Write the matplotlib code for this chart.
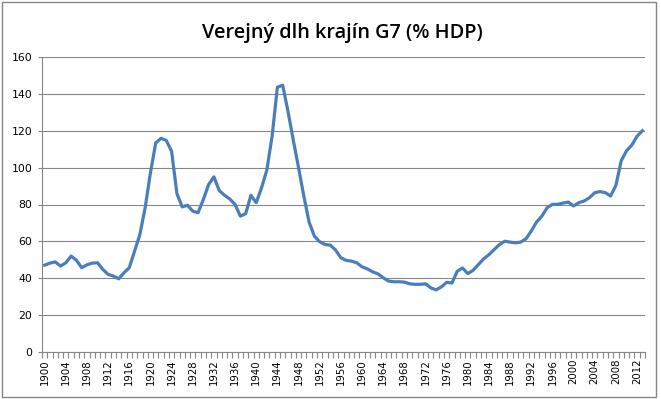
import numpy as np
import matplotlib
matplotlib.use("Agg")
import matplotlib.pyplot as plt
from matplotlib.patches import Rectangle

# verejny dlh G7, % HDP (odcitane z grafu)
roky = list(range(1900, 2014))
dlh = [
    47.1, 48.2, 48.9, 46.6, 48.4, 52.0, 49.8, 45.7, 47.3, 48.2,   # 1900-1909
    48.4, 44.8, 42.1, 41.2, 39.7, 43.0, 45.7, 54.7, 63.7, 78.2,   # 1910-1919
    97.2, 113.4, 115.9, 114.7, 108.9, 86.0, 78.7, 79.6, 76.4, 75.5,  # 1920-1929
    82.7, 90.8, 95.0, 87.6, 85.0, 83.0, 80.0, 73.7, 75.0, 85.0,   # 1930-1939
    81.0, 89.0, 98.6, 117.0, 143.6, 144.7, 130.6, 115.0, 100.0, 84.5,  # 1940-1949
    70.4, 62.8, 59.8, 58.3, 58.0, 55.3, 51.1, 49.7, 49.3, 48.4,   # 1950-1959
    46.2, 45.1, 43.5, 42.4, 40.3, 38.5, 38.1, 38.1, 37.9, 37.0,   # 1960-1969
    36.7, 36.7, 37.0, 34.8, 33.7, 35.3, 37.8, 37.4, 43.8, 45.6,   # 1970-1979
    42.5, 44.3, 47.4, 50.5, 52.8, 55.6, 58.3, 60.1, 59.6, 59.2,   # 1980-1989
    59.6, 61.4, 65.6, 70.5, 73.7, 78.3, 80.1, 80.1, 80.8, 81.3,   # 1990-1999
    79.2, 81.0, 81.9, 83.7, 86.4, 87.0, 86.4, 84.6, 90.4, 103.7,  # 2000-2009
    109.1, 112.2, 117.0, 120.0,                                   # 2010-2013
]
popisky_rokov = list(range(1900, 2013, 4))
y_ticks = [0, 20, 40, 60, 80, 100, 120, 140, 160]

sediva = "#868686"

fig = plt.figure(figsize=(6.61, 3.99), dpi=100)
ax = fig.add_axes([42/661, 1 - 352/399, (645 - 42)/661, (352 - 57)/399])

# ramik okolo celeho grafu
fig.patches.append(Rectangle((2/661, 2/399), 654/661, 395/399, transform=fig.transFigure,
                             fill=False, edgecolor=sediva, linewidth=1.0))

ax.plot(roky, dlh, color="#4A7EBB", linewidth=2.3, solid_joinstyle="round")

ax.set_xlim(1899.5, 2013.5)
ax.set_ylim(0, 160)
ax.set_yticks(y_ticks)
ax.grid(axis="y", color=sediva, linewidth=0.8)
ax.set_axisbelow(True)

ax.set_xticks(popisky_rokov)
ax.set_xticklabels([str(r) for r in popisky_rokov], rotation=90, fontsize=7.3,
                   family="DejaVu Sans", color="#000000")
ax.set_xticks(np.arange(1899.5, 2014, 1.0), minor=True)
ax.tick_params(axis="x", which="major", length=0, pad=5)
ax.tick_params(axis="x", which="minor", length=4, color=sediva, width=0.8, direction="out")
ax.tick_params(axis="y", length=3, color=sediva, width=0.8, labelsize=7.8, pad=4)

for s in ["top", "right"]:
    ax.spines[s].set_visible(False)
for s in ["left", "bottom"]:
    ax.spines[s].set_color(sediva)
    ax.spines[s].set_linewidth(0.8)

fig.text(342/661, 1 - 33/399, "Verejný dlh krajín G7 (% HDP)", ha="center", va="center",
         fontsize=14.3, fontweight="semibold", family="Open Sans")

fig.savefig("out.png", dpi=100)
